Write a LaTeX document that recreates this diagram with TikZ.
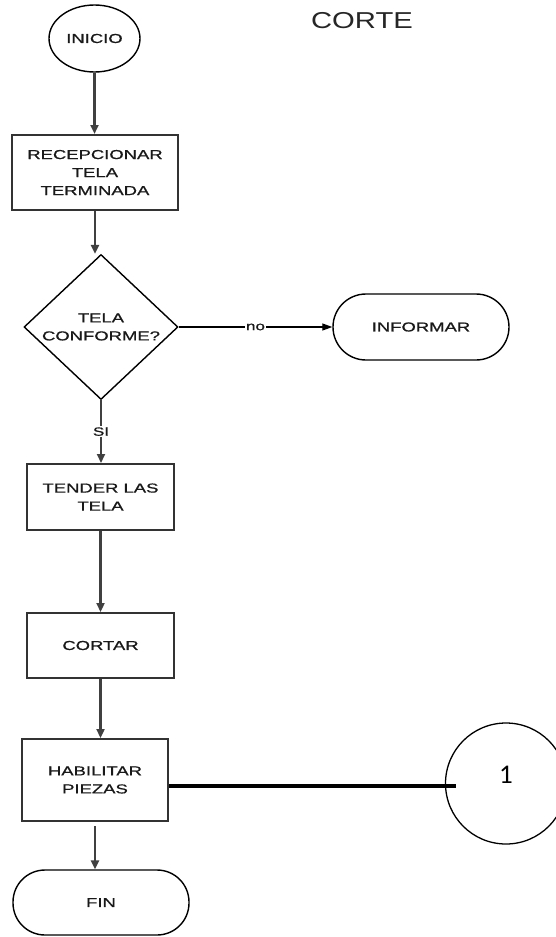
\documentclass[tikz,border=0pt]{standalone}
\usepackage{fontspec}
\setmainfont{Liberation Sans}
\newfontfamily\flowfont[FakeBold=0.7]{Liberation Sans}
\newfontfamily\carl{Carlito}
\usetikzlibrary{shapes.geometric,arrows.meta}
\newcommand\wt[1]{\scalebox{1.42}[1]{#1}}
\tikzset{
  base/.style={draw=black, font=\flowfont\fontsize{13}{18}\selectfont, align=center, inner sep=0pt, text=black!90},
  procbox/.style={base, rectangle, line width=2pt, draw=black!80},
  term/.style={base, rectangle, rounded corners=32pt, line width=1.4pt},
  flow/.style={draw=black!75, line width=2.6pt, -{Triangle[length=9pt,width=8pt]}},
  thinflow/.style={draw=black, line width=1.2pt, -{Triangle[length=10pt,width=7pt]}},
  lbl/.style={fill=white, inner sep=1.5pt, font=\flowfont\fontsize{12}{14}\selectfont, text=black!90},
}
\begin{document}
\begin{tikzpicture}[x=1pt,y=-1pt]
\useasboundingbox (0,0) rectangle (556,937);
\clip (0,0) rectangle (556,937);
% nodes
\node[base, ellipse, minimum width=91pt, minimum height=67pt, line width=1.4pt] (inicio) at (94.5,38.5) {\wt{INICIO}};
\node[font=\fontsize{23}{26}\selectfont, text=black!85, inner sep=0pt] (titulo) at (362,21) {\scalebox{1.27}[1]{CORTE}};
\node[procbox, minimum width=166pt, minimum height=75pt] (rec) at (95,172.5) {\wt{RECEPCIONAR}\\\wt{TELA}\\\wt{TERMINADA}};
\node[base, diamond, minimum width=154pt, minimum height=107pt, line width=1.4pt] (dec) at (101,327) {\wt{TELA}\\\wt{CONFORME?}};
\node[term, minimum width=176pt, minimum height=66pt, rounded corners=33pt] (inf) at (421,327) {\wt{INFORMAR}};
\node[procbox, minimum width=147pt, minimum height=66pt] (ten) at (100.5,497) {\wt{TENDER LAS}\\\wt{TELA}};
\node[procbox, minimum width=147pt, minimum height=65pt] (cor) at (100.5,645.5) {\wt{CORTAR}};
\node[procbox, minimum width=146pt, minimum height=82pt] (hab) at (95,780) {\wt{HABILITAR}\\\wt{PIEZAS}};
\node[term, minimum width=176pt, minimum height=65pt] (fin) at (101,902.5) {\wt{FIN}};
\node[draw=black, circle, minimum size=121pt, line width=1.3pt, inner sep=0pt, font=\carl\fontsize{27}{30}\selectfont] (one) at (506,783.5) {\raisebox{17pt}{1}};
% connectors
\draw[flow] (inicio.south) -- (inicio.south |- rec.north);
\draw[flow] (rec.south) -- (rec.south |- dec.north);
\draw[thinflow] (dec.east) -- node[lbl] {\wt{no}} (inf.west);
\draw[flow, line width=2pt] (dec.south) -- node[lbl, pos=0.5] {\wt{SI}} (dec.south |- ten.north);
\draw[flow] (ten.south) -- (cor.north);
\draw[flow] (cor.south) -- (cor.south |- hab.north);
\draw[flow] ([yshift=-4pt]hab.south) -- (hab.south |- fin.north);
\draw[line width=3.4pt, black] ([yshift=-6pt]hab.east) -- ([xshift=11pt,yshift=-2.5pt]one.west);
\end{tikzpicture}
\end{document}
